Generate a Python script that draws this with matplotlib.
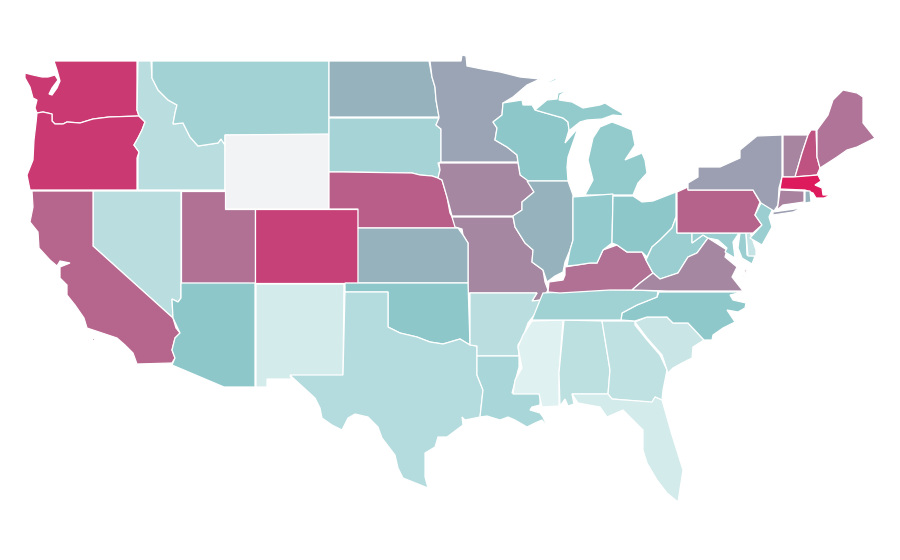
import matplotlib
matplotlib.use("Agg")
import matplotlib.pyplot as plt
from matplotlib.colors import LinearSegmentedColormap
from matplotlib.patches import Polygon

# value per state, 0-1 (None = no data)
values = {
    "WA": .86, "OR": .86, "CA": .68, "NV": .14, "ID": .14, "MT": .22, "WY": None, "UT": .63,
    "AZ": .30, "CO": .83, "NM": .046, "ND": .38, "SD": .21, "NE": .71, "KS": .38, "OK": .30,
    "TX": .157, "MN": .43, "IA": .54, "MO": .54, "AR": .14, "LA": .196, "WI": .30, "IL": .38,
    "MI": .275, "IN": .28, "OH": .30, "KY": .63, "TN": .23, "MS": 0.0, "AL": .13, "GA": .12,
    "FL": .043, "SC": .085, "NC": .29, "VA": .54, "WV": .25, "MD": .25, "DE": .10, "PA": .69,
    "NJ": .25, "NY": .45, "CT": .56, "RI": .38, "MA": 1.0, "VT": .55, "NH": .76, "ME": .62,
}

color_stops = [(0, "#e0f1f1"), (.3, "#8cc7ca"), (.55, "#a785a1"), (.85, "#c83c74"), (1, "#dc1a5c")]
no_data_color = "#f2f3f5"

outlines = {
    "WA": [[(54, 61), (137, 61), (137, 110), (139, 116), (109, 117), (93, 119), (80, 123), (67, 122), (63, 124),
            (55, 124), (52, 121), (52, 114), (43, 112), (37, 113), (35, 108), (37, 100), (33, 98), (30, 87), (25, 78),
            (25, 73), (33, 75), (42, 77), (48, 77), (55, 75), (58, 80), (52, 88), (49, 94), (52, 95), (57, 88),
            (60, 81), (57, 70)]],
    "OR": [[(37, 113), (43, 112), (52, 114), (52, 121), (55, 124), (63, 124), (67, 122), (80, 123), (93, 119),
            (109, 117), (139, 116), (145, 122), (142, 130), (138, 138), (134, 145), (139, 152), (137, 158), (137, 190),
            (30, 190), (27, 175), (33, 160), (34, 140), (36, 123)]],
    "ID": [[(138, 61), (151, 61), (152, 78), (158, 90), (168, 100), (177, 105), (175, 113), (173, 124), (183, 123),
            (190, 137), (198, 146), (218, 143), (221, 139), (225, 145), (225, 190), (138, 190), (138, 158), (139, 152),
            (134, 145), (138, 138), (142, 130), (145, 122), (139, 116), (137, 110)]],
    "MT": [[(152, 61), (329, 61), (329, 135), (225, 135), (225, 145), (221, 139), (218, 143), (198, 146), (190, 137),
            (183, 123), (173, 124), (175, 113), (177, 105), (168, 100), (158, 90), (152, 78)]],
    "WY": [[(225, 135), (329, 134), (329, 209), (225, 209)]],
    "NV": [[(93, 191), (181, 191), (181, 298), (178, 302), (172, 299), (173, 318), (93, 246)]],
    "UT": [[(181, 191), (225, 191), (225, 209), (255, 209), (255, 283), (181, 283)]],
    "CA": [[(32, 191), (93, 191), (93, 246), (173, 318), (176, 328), (180, 333), (175, 338), (172, 350), (175, 358),
            (172, 363), (137, 364), (133, 353), (125, 345), (117, 338), (102, 333), (87, 328), (84, 318), (75, 305),
            (67, 295), (67, 285), (60, 278), (60, 267), (70, 263), (60, 261), (57, 266), (50, 260), (39, 248),
            (38, 232), (30, 222), (33, 207)],
           [(92, 338), (94, 338), (94, 340), (92, 340)]],
    "AZ": [[(181, 283), (255, 283), (255, 387), (224, 387), (172, 365), (175, 358), (172, 350), (175, 338), (180, 333),
            (173, 318), (172, 299), (178, 302), (181, 298)]],
    "NM": [[(256, 284), (344, 284), (343, 376), (290, 376), (292, 379), (267, 379), (267, 387), (256, 387)]],
    "CO": [[(255, 209), (358, 209), (358, 283), (255, 283)]],
    "ND": [[(329, 61), (429, 61), (432, 77), (435, 87), (436, 100), (439, 117), (329, 117)]],
    "SD": [[(329, 118), (439, 118), (436, 125), (441, 129), (441, 162), (438, 163), (440, 170), (438, 178), (432, 176),
            (420, 175), (412, 173), (343, 172), (329, 172)]],
    "NE": [[(329, 172), (343, 172), (412, 173), (420, 175), (432, 176), (438, 178), (442, 180), (447, 197), (450, 213),
            (458, 228), (358, 228), (358, 209), (329, 209)]],
    "MN": [[(430, 61), (461, 61), (462, 55), (466, 56), (467, 66), (482, 69), (500, 72), (520, 77), (540, 79), (527, 85),
            (513, 97), (503, 103), (502, 115), (493, 122), (497, 128), (495, 140), (507, 147), (517, 155), (518, 162),
            (441, 162), (441, 129), (436, 125), (439, 118), (439, 117), (436, 100), (435, 87), (432, 77)]],
    "WI": [[(503, 103), (522, 100), (523, 105), (532, 105), (535, 110), (563, 118), (568, 122), (569, 130), (565, 143),
            (578, 128), (568, 157), (567, 167), (568, 181), (527, 181), (520, 175), (518, 162), (517, 155), (507, 147),
            (495, 140), (497, 128), (493, 122), (502, 115)]],
    "MI": [[(535, 110), (547, 100), (557, 99), (558, 93), (568, 90), (560, 95), (559, 100), (572, 102), (583, 108),
            (600, 105), (605, 103), (613, 108), (622, 113), (623, 116), (613, 115), (602, 119), (587, 120), (580, 122),
            (570, 130), (569, 130), (568, 122), (563, 118)],
           [(593, 138), (600, 127), (612, 122), (620, 125), (632, 130), (635, 145), (625, 160), (642, 153), (645, 160),
            (647, 173), (638, 183), (633, 195), (585, 195), (593, 180), (588, 160)],
           [(548, 82), (556, 78), (556, 80), (549, 83)]],
    "IA": [[(439, 163), (518, 163), (520, 175), (527, 180), (534, 192), (522, 202), (522, 210), (513, 216), (452, 216),
            (447, 197), (442, 180), (438, 178), (440, 170)]],
    "MO": [[(452, 217), (513, 217), (515, 227), (525, 243), (533, 250), (532, 262), (543, 270), (545, 282), (548, 290),
            (542, 300), (532, 301), (537, 293), (468, 293), (468, 243), (463, 235), (462, 229), (455, 227)]],
    "KS": [[(358, 228), (458, 228), (463, 235), (468, 243), (468, 283), (358, 283)]],
    "OK": [[(345, 283), (468, 283), (470, 345), (460, 339), (443, 344), (430, 342), (417, 337), (400, 333), (388, 327),
            (388, 292), (345, 292)]],
    "TX": [[(345, 292), (388, 292), (388, 327), (400, 333), (417, 337), (430, 342), (443, 344), (460, 339), (470, 345),
            (477, 346), (477, 375), (483, 390), (480, 417), (465, 420), (462, 417), (463, 425), (447, 437), (438, 437),
            (435, 447), (425, 453), (425, 477), (428, 488), (403, 478), (398, 468), (395, 455), (382, 438), (378, 427),
            (368, 417), (355, 414), (348, 418), (342, 430), (332, 425), (322, 418), (320, 408), (315, 398), (292, 377),
            (290, 375), (343, 375)]],
    "AR": [[(470, 293), (537, 293), (532, 301), (542, 300), (538, 310), (528, 323), (523, 337), (518, 345), (519, 356),
            (477, 356), (477, 346), (470, 345)]],
    "LA": [[(477, 356), (519, 356), (519, 367), (512, 393), (540, 393), (540, 405), (532, 407), (530, 410), (540, 413),
            (543, 417), (548, 428), (542, 420), (535, 423), (527, 427), (515, 420), (508, 417), (500, 420), (487, 416),
            (480, 417), (483, 390), (477, 375)]],
    "MS": [[(532, 321), (563, 320), (559, 373), (559, 406), (542, 407), (539, 394), (513, 394), (515, 380), (522, 368),
            (518, 347), (523, 335)]],
    "AL": [[(564, 320), (602, 321), (610, 370), (608, 394), (572, 394), (574, 404), (568, 406), (565, 399), (560, 406),
            (559, 373)]],
    "GA": [[(602, 321), (635, 321), (635, 325), (647, 340), (660, 355), (667, 370), (663, 390), (662, 400), (655, 397),
            (652, 405), (647, 402), (612, 399), (608, 394), (610, 370)]],
    "FL": [[(572, 394), (608, 394), (612, 399), (652, 402), (655, 397), (662, 400), (672, 435), (683, 470), (678, 502),
            (667, 493), (657, 480), (647, 463), (643, 450), (643, 430), (623, 410), (607, 417), (600, 407), (578, 403)]],
    "SC": [[(635, 322), (647, 317), (667, 317), (673, 323), (688, 323), (704, 340), (693, 347), (692, 358), (682, 363),
            (673, 368), (668, 373), (662, 355), (647, 338)]],
    "NC": [[(659, 292), (742, 292), (730, 295), (733, 300), (746, 303), (745, 308), (738, 312), (727, 310), (735, 322),
            (723, 328), (713, 335), (712, 340), (704, 340), (688, 323), (673, 323), (667, 317), (647, 317), (635, 321),
            (621, 320), (622, 313), (637, 305), (657, 297)]],
    "TN": [[(543, 293), (565, 292), (566, 289), (633, 290), (658, 291), (657, 297), (637, 305), (622, 313), (621, 320),
            (564, 320), (532, 320), (540, 300)]],
    "KY": [[(548, 292), (549, 282), (563, 280), (565, 275), (565, 267), (577, 265), (590, 263), (597, 263), (603, 250),
            (617, 245), (627, 252), (642, 252), (646, 260), (653, 273), (640, 283), (632, 290), (610, 290), (560, 293)]],
    "IL": [[(527, 181), (568, 181), (573, 195), (573, 240), (570, 250), (565, 262), (563, 272), (555, 276), (547, 282),
            (543, 270), (532, 262), (533, 250), (525, 243), (515, 227), (513, 216), (522, 210), (522, 202), (534, 192)]],
    "IN": [[(573, 197), (613, 194), (612, 243), (603, 250), (597, 263), (590, 263), (577, 265), (567, 266), (570, 250),
            (573, 240)]],
    "OH": [[(613, 196), (633, 196), (642, 202), (653, 201), (676, 192), (676, 217), (672, 228), (660, 240), (652, 247),
            (647, 257), (642, 252), (627, 252), (617, 245), (612, 243)]],
    "WV": [[(676, 217), (677, 233), (692, 233), (692, 243), (703, 235), (708, 238), (697, 253), (688, 257), (678, 273),
            (660, 279), (653, 273), (646, 260), (652, 247), (660, 240), (672, 228)]],
    "VA": [[(632, 290), (640, 283), (653, 273), (660, 279), (678, 273), (688, 257), (697, 253), (708, 238), (727, 250),
            (725, 257), (737, 267), (732, 277), (743, 291), (667, 291)],
           [(745, 270), (748, 267), (743, 280)]],
    "MD": [[(692, 233), (739, 233), (733, 242), (735, 258), (725, 252), (727, 248), (718, 240), (708, 238), (703, 235),
            (692, 243)],
           [(740, 233), (746, 233), (747, 255), (755, 256), (752, 264), (742, 258), (738, 248)]],
    "DE": [[(746, 233), (750, 232), (756, 250), (756, 256), (748, 256)]],
    "PA": [[(677, 192), (688, 187), (688, 190), (753, 190), (760, 202), (755, 215), (762, 225), (753, 233), (677, 233)]],
    "NJ": [[(761, 203), (773, 208), (769, 217), (772, 227), (762, 245), (750, 238), (762, 225), (755, 215)]],
    "NY": [[(688, 190), (688, 183), (698, 177), (698, 167), (720, 167), (740, 158), (740, 150), (757, 136), (782, 135),
            (782, 177), (779, 188), (778, 205), (774, 211), (761, 203), (753, 190)],
           [(773, 212), (802, 208), (793, 212), (773, 215)]],
    "VT": [[(783, 135), (808, 135), (802, 153), (795, 177), (783, 177)]],
    "NH": [[(808, 135), (811, 130), (816, 130), (817, 157), (820, 168), (817, 175), (795, 177), (802, 153)]],
    "ME": [[(817, 130), (828, 115), (833, 100), (843, 90), (857, 93), (863, 97), (863, 123), (875, 138), (857, 147),
            (847, 150), (837, 157), (820, 168), (817, 157)]],
    "MA": [[(782, 177), (793, 177), (818, 175), (821, 181), (815, 185), (822, 188), (823, 195), (831, 195), (824, 198),
            (816, 198), (813, 193), (805, 190), (780, 189)]],
    "CT": [[(780, 190), (804, 191), (804, 202), (783, 205), (777, 210), (778, 205)]],
    "RI": [[(805, 191), (810, 191), (811, 202), (805, 203)]],
}

cmap = LinearSegmentedColormap.from_list("teal_pink", color_stops)

fig = plt.figure(figsize=(9, 5.6), dpi=100)
ax = fig.add_axes([0, 0, 1, 1])
ax.set_xlim(0, 900)
ax.set_ylim(560, 0)
ax.axis("off")

for state, rings in outlines.items():
    value = values[state]
    color = no_data_color if value is None else cmap(value)
    for ring in rings:
        ax.add_patch(Polygon(ring, closed=True, facecolor=color, edgecolor="white", linewidth=0.9))

fig.savefig("out.png", dpi=100)
